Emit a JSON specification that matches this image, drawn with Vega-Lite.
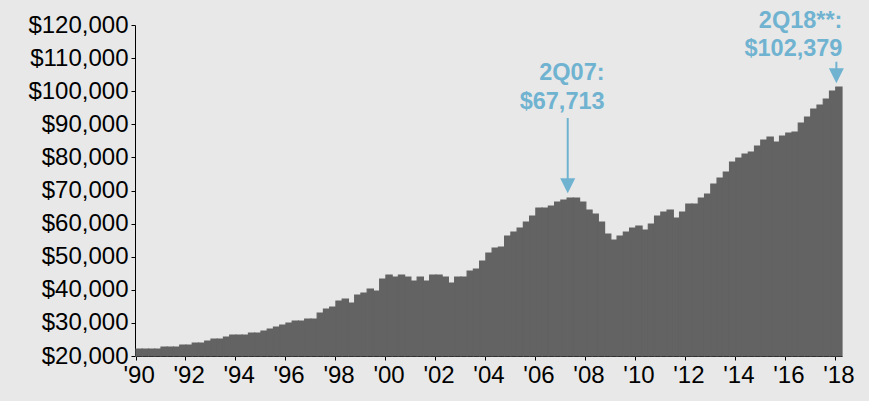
{
  "$schema": "https://vega.github.io/schema/vega-lite/v6.json",
  "width": 706,
  "height": 331,
  "autosize": {"type": "none"},
  "padding": {"left": 136, "top": 25, "right": 27, "bottom": 45},
  "background": "#e8e8e8",
  "config": {
    "view": {"stroke": null},
    "font": "Liberation Sans",
    "axis": {"labelFont": "Liberation Sans", "labelFontSize": 24, "labelColor": "#000000", "domainColor": "#000000", "tickColor": "#000000", "domainWidth": 1, "tickWidth": 1, "tickSize": 4, "labelPadding": 3, "grid": false, "title": null, "labelOverlap": false}
  },
  "data": {"values": [
    {"quarter": "1Q90", "value": 22115}, {"quarter": "2Q90", "value": 22115}, {"quarter": "3Q90", "value": 22115}, {"quarter": "4Q90", "value": 22115},
    {"quarter": "1Q91", "value": 22719}, {"quarter": "2Q91", "value": 22719}, {"quarter": "3Q91", "value": 22719}, {"quarter": "4Q91", "value": 23323},
    {"quarter": "1Q92", "value": 23323}, {"quarter": "2Q92", "value": 23927}, {"quarter": "3Q92", "value": 23927}, {"quarter": "4Q92", "value": 24531},
    {"quarter": "1Q93", "value": 25135}, {"quarter": "2Q93", "value": 25135}, {"quarter": "3Q93", "value": 25740}, {"quarter": "4Q93", "value": 26344},
    {"quarter": "1Q94", "value": 26344}, {"quarter": "2Q94", "value": 26344}, {"quarter": "3Q94", "value": 26948}, {"quarter": "4Q94", "value": 26948},
    {"quarter": "1Q95", "value": 27552}, {"quarter": "2Q95", "value": 28156}, {"quarter": "3Q95", "value": 28760}, {"quarter": "4Q95", "value": 29365},
    {"quarter": "1Q96", "value": 29969}, {"quarter": "2Q96", "value": 30573}, {"quarter": "3Q96", "value": 30573}, {"quarter": "4Q96", "value": 31177},
    {"quarter": "1Q97", "value": 31177}, {"quarter": "2Q97", "value": 32990}, {"quarter": "3Q97", "value": 34199}, {"quarter": "4Q97", "value": 34803},
    {"quarter": "1Q98", "value": 36615}, {"quarter": "2Q98", "value": 37220}, {"quarter": "3Q98", "value": 36011}, {"quarter": "4Q98", "value": 38428},
    {"quarter": "1Q99", "value": 39032}, {"quarter": "2Q99", "value": 40241}, {"quarter": "3Q99", "value": 39636}, {"quarter": "4Q99", "value": 43261},
    {"quarter": "1Q00", "value": 44470}, {"quarter": "2Q00", "value": 43866}, {"quarter": "3Q00", "value": 44470}, {"quarter": "4Q00", "value": 43866},
    {"quarter": "1Q01", "value": 42657}, {"quarter": "2Q01", "value": 43866}, {"quarter": "3Q01", "value": 42657}, {"quarter": "4Q01", "value": 44470},
    {"quarter": "1Q02", "value": 44470}, {"quarter": "2Q02", "value": 43866}, {"quarter": "3Q02", "value": 42053}, {"quarter": "4Q02", "value": 43866},
    {"quarter": "1Q03", "value": 43866}, {"quarter": "2Q03", "value": 45678}, {"quarter": "3Q03", "value": 46282}, {"quarter": "4Q03", "value": 48699},
    {"quarter": "1Q04", "value": 51116}, {"quarter": "2Q04", "value": 52626}, {"quarter": "3Q04", "value": 52928}, {"quarter": "4Q04", "value": 56252},
    {"quarter": "1Q05", "value": 57460}, {"quarter": "2Q05", "value": 58669}, {"quarter": "3Q05", "value": 60481}, {"quarter": "4Q05", "value": 62294},
    {"quarter": "1Q06", "value": 64711}, {"quarter": "2Q06", "value": 64711}, {"quarter": "3Q06", "value": 65315}, {"quarter": "4Q06", "value": 66523},
    {"quarter": "1Q07", "value": 67128}, {"quarter": "2Q07", "value": 67713, "tip": 69150, "top": 91900, "label": "2Q07:\n$67,713"}, {"quarter": "3Q07", "value": 67700}, {"quarter": "4Q07", "value": 66523},
    {"quarter": "1Q08", "value": 64107}, {"quarter": "2Q08", "value": 62898}, {"quarter": "3Q08", "value": 60481}, {"quarter": "4Q08", "value": 56856},
    {"quarter": "1Q09", "value": 55044}, {"quarter": "2Q09", "value": 56252}, {"quarter": "3Q09", "value": 57460}, {"quarter": "4Q09", "value": 58669},
    {"quarter": "1Q10", "value": 59273}, {"quarter": "2Q10", "value": 58065}, {"quarter": "3Q10", "value": 59877}, {"quarter": "4Q10", "value": 62294},
    {"quarter": "1Q11", "value": 63502}, {"quarter": "2Q11", "value": 64107}, {"quarter": "3Q11", "value": 61690}, {"quarter": "4Q11", "value": 63502},
    {"quarter": "1Q12", "value": 65919}, {"quarter": "2Q12", "value": 65919}, {"quarter": "3Q12", "value": 67732}, {"quarter": "4Q12", "value": 68940},
    {"quarter": "1Q13", "value": 71961}, {"quarter": "2Q13", "value": 73774}, {"quarter": "3Q13", "value": 75586}, {"quarter": "4Q13", "value": 78607},
    {"quarter": "1Q14", "value": 79816}, {"quarter": "2Q14", "value": 81024}, {"quarter": "3Q14", "value": 81628}, {"quarter": "4Q14", "value": 83441},
    {"quarter": "1Q15", "value": 85253}, {"quarter": "2Q15", "value": 86160}, {"quarter": "3Q15", "value": 84649}, {"quarter": "4Q15", "value": 86462},
    {"quarter": "1Q16", "value": 87368}, {"quarter": "2Q16", "value": 87670}, {"quarter": "3Q16", "value": 90389}, {"quarter": "4Q16", "value": 92202},
    {"quarter": "1Q17", "value": 94619}, {"quarter": "2Q17", "value": 95827}, {"quarter": "3Q17", "value": 97640}, {"quarter": "4Q17", "value": 100057},
    {"quarter": "1Q18", "value": 101265, "tip": 102379, "top": 108900, "label": "2Q18**:\n$102,379"}
  ]},
  "layer": [
    {
      "mark": {"type": "bar", "color": "#636363", "stroke": "#636363", "strokeWidth": 1.2},
      "encoding": {
        "x": {
          "field": "quarter", "type": "ordinal", "sort": null,
          "scale": {
            "paddingInner": 0, "paddingOuter": 0,
            "domain": ["1Q90","2Q90","3Q90","4Q90","1Q91","2Q91","3Q91","4Q91","1Q92","2Q92","3Q92","4Q92","1Q93","2Q93","3Q93","4Q93","1Q94","2Q94","3Q94","4Q94","1Q95","2Q95","3Q95","4Q95","1Q96","2Q96","3Q96","4Q96","1Q97","2Q97","3Q97","4Q97","1Q98","2Q98","3Q98","4Q98","1Q99","2Q99","3Q99","4Q99","1Q00","2Q00","3Q00","4Q00","1Q01","2Q01","3Q01","4Q01","1Q02","2Q02","3Q02","4Q02","1Q03","2Q03","3Q03","4Q03","1Q04","2Q04","3Q04","4Q04","1Q05","2Q05","3Q05","4Q05","1Q06","2Q06","3Q06","4Q06","1Q07","2Q07","3Q07","4Q07","1Q08","2Q08","3Q08","4Q08","1Q09","2Q09","3Q09","4Q09","1Q10","2Q10","3Q10","4Q10","1Q11","2Q11","3Q11","4Q11","1Q12","2Q12","3Q12","4Q12","1Q13","2Q13","3Q13","4Q13","1Q14","2Q14","3Q14","4Q14","1Q15","2Q15","3Q15","4Q15","1Q16","2Q16","3Q16","4Q16","1Q17","2Q17","3Q17","4Q17","1Q18"]
          },
          "axis": {
            "values": ["1Q90","1Q92","1Q94","1Q96","1Q98","1Q00","1Q02","1Q04","1Q06","1Q08","1Q10","1Q12","1Q14","1Q16","1Q18"],
            "labelExpr": "\"'\" + substring(datum.value, 2, 4)",
            "bandPosition": 0,
            "labelAngle": 0,
            "labelOverlap": false
          }
        },
        "y": {
          "field": "value", "type": "quantitative",
          "scale": {"domain": [20000, 120000], "nice": false, "zero": false},
          "axis": {"values": [20000, 30000, 40000, 50000, 60000, 70000, 80000, 90000, 100000, 110000, 120000], "tickCount": 11, "format": "$,.0f", "offset": 1, "labelOverlap": false}
        },
        "y2": {"datum": 20000}
      }
    },
    {
      "transform": [{"filter": "isValid(datum.label)"}],
      "mark": {"type": "rule", "color": "#70b3d1", "strokeWidth": 2, "yOffset": -8},
      "encoding": {
        "x": {"field": "quarter", "type": "ordinal", "sort": null, "bandPosition": 0.1},
        "y": {"field": "tip", "type": "quantitative", "axis": {"values": [20000, 30000, 40000, 50000, 60000, 70000, 80000, 90000, 100000, 110000, 120000], "tickCount": 11, "format": "$,.0f", "offset": 1, "labelOverlap": false}},
        "y2": {"field": "top"}
      }
    },
    {
      "transform": [{"filter": "isValid(datum.label)"}],
      "mark": {"type": "point", "shape": "M-1,-1L1,-1L0,1Z", "size": 225, "filled": true, "color": "#70b3d1", "opacity": 1, "strokeWidth": 0, "yOffset": -7.5},
      "encoding": {
        "x": {"field": "quarter", "type": "ordinal", "sort": null, "bandPosition": 0.1},
        "y": {"field": "tip", "type": "quantitative", "axis": {"values": [20000, 30000, 40000, 50000, 60000, 70000, 80000, 90000, 100000, 110000, 120000], "tickCount": 11, "format": "$,.0f", "offset": 1, "labelOverlap": false}}
      }
    },
    {
      "transform": [{"filter": "datum.quarter == '2Q07'"}],
      "mark": {"type": "text", "align": "right", "baseline": "top", "dx": 37.5, "dy": -56.7, "fontSize": 23.5, "fontWeight": "bold", "color": "#70b3d1", "lineBreak": "\n", "lineHeight": 28.3},
      "encoding": {
        "x": {"field": "quarter", "type": "ordinal", "sort": null, "bandPosition": 0},
        "y": {"field": "top", "type": "quantitative", "axis": {"values": [20000, 30000, 40000, 50000, 60000, 70000, 80000, 90000, 100000, 110000, 120000], "tickCount": 11, "format": "$,.0f", "offset": 1, "labelOverlap": false}},
        "text": {"field": "label"}
      }
    },
    {
      "transform": [{"filter": "datum.quarter == '1Q18'"}],
      "mark": {"type": "text", "align": "right", "baseline": "top", "dx": 6.7, "dy": -53, "fontSize": 23.5, "fontWeight": "bold", "color": "#70b3d1", "lineBreak": "\n", "lineHeight": 28.3},
      "encoding": {
        "x": {"field": "quarter", "type": "ordinal", "sort": null, "bandPosition": 0},
        "y": {"field": "top", "type": "quantitative", "axis": {"values": [20000, 30000, 40000, 50000, 60000, 70000, 80000, 90000, 100000, 110000, 120000], "tickCount": 11, "format": "$,.0f", "offset": 1, "labelOverlap": false}},
        "text": {"field": "label"}
      }
    }
  ]
}
